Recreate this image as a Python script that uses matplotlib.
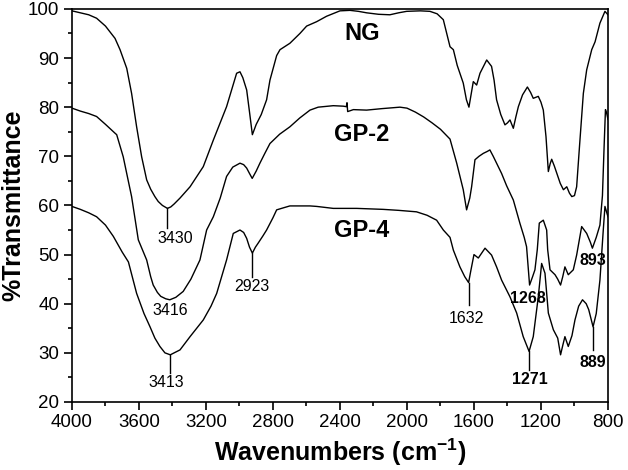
import numpy as np
import matplotlib
matplotlib.use('Agg')
import matplotlib.pyplot as plt
from matplotlib.ticker import MultipleLocator

plt.rcParams['font.family'] = 'Liberation Sans'
plt.rcParams['mathtext.fontset'] = 'custom'
plt.rcParams['mathtext.rm'] = 'Liberation Sans'
plt.rcParams['mathtext.bf'] = 'Liberation Sans:bold'

# NG spectrum (wavenumber, %T)
wn_ng = [4000, 3950, 3900, 3853, 3800, 3743, 3713, 3673, 3644, 3614, 3584, 3554,
         3530, 3505, 3485, 3460, 3430, 3410, 3390, 3355, 3295, 3216, 3156, 3077,
         3017, 2997, 2980, 2957, 2940, 2923, 2900, 2870, 2838, 2818, 2778, 2758,
         2699, 2639, 2599, 2539, 2480, 2400, 2340, 2290, 2241, 2170, 2102, 2050,
         2002, 1920, 1863, 1820, 1783, 1743, 1723, 1700, 1664, 1645, 1630, 1615,
         1604, 1584, 1564, 1524, 1495, 1480, 1465, 1440, 1415, 1400, 1385, 1365,
         1350, 1335, 1310, 1281, 1262, 1246, 1216, 1200, 1186, 1170, 1156, 1145,
         1136, 1120, 1106, 1085, 1066, 1046, 1030, 1016, 1000, 987, 970, 947, 927,
         897, 877, 848, 818, 800]
t_ng = [99.6, 99.2, 98.8, 98.1, 96.5, 94.0, 91.7, 87.9, 82.8, 76.0, 69.9, 65.2,
        63.3, 61.8, 60.8, 60.0, 59.4, 59.7, 60.3, 61.5, 63.8, 67.9, 73.3, 80.1,
        86.9, 87.2, 86.0, 83.5, 79.0, 74.4, 76.5, 78.5, 81.5, 85.5, 90.5, 91.7,
        93.0, 95.0, 96.5, 97.4, 98.5, 99.6, 99.7, 99.5, 99.2, 98.9, 98.8, 99.2,
        99.5, 99.6, 99.5, 99.0, 97.8, 92.3, 91.7, 88.5, 84.9, 81.5, 80.0, 83.0,
        85.2, 84.5, 86.9, 89.6, 88.3, 85.5, 81.5, 78.5, 76.4, 76.8, 77.4, 75.7,
        78.0, 80.1, 82.5, 84.1, 83.0, 81.8, 82.2, 81.0, 79.4, 74.0, 66.9, 68.5,
        69.4, 68.0, 66.6, 64.5, 63.2, 63.8, 62.5, 61.8, 62.0, 63.8, 72.0, 82.8, 87.6,
        91.7, 93.3, 97.1, 99.5, 98.8]

# GP-2 spectrum
wn_gp2 = [4000, 3950, 3900, 3853, 3800, 3743, 3733, 3694, 3670, 3644, 3604, 3554,
          3530, 3515, 3490, 3470, 3440, 3416, 3380, 3336, 3290, 3236, 3196, 3156,
          3115, 3077, 3040, 2997, 2975, 2957, 2940, 2924, 2900, 2878, 2850, 2818,
          2760, 2699, 2640, 2579, 2530, 2440, 2380, 2362, 2358, 2354, 2320, 2241,
          2150, 2042, 2000, 1950, 1900, 1850, 1800, 1743, 1703, 1664, 1644, 1625,
          1614, 1594, 1570, 1544, 1520, 1505, 1485, 1465, 1435, 1405, 1365, 1326,
          1300, 1286, 1268, 1250, 1236, 1222, 1210, 1186, 1166, 1160, 1146, 1116,
          1100, 1083, 1070, 1057, 1037, 1007, 987, 957, 927, 905, 893, 870, 848,
          833, 823, 815, 808, 800]
t_gp2 = [79.8, 79.2, 78.7, 78.1, 76.5, 74.7, 74.4, 69.9, 66.0, 61.8, 53.0, 48.9,
         45.5, 43.8, 42.3, 41.5, 41.0, 40.8, 41.3, 42.5, 45.0, 48.9, 55.0, 57.7,
         61.5, 65.9, 67.8, 68.6, 68.3, 67.6, 66.5, 65.5, 67.0, 68.6, 70.5, 72.6,
         74.5, 76.0, 77.8, 79.4, 80.0, 80.3, 80.2, 80.1, 80.9, 79.1, 79.5, 79.4,
         79.7, 80.0, 79.8, 79.0, 78.0, 76.8, 75.5, 73.5, 68.6, 63.2, 59.1, 61.5,
         63.8, 69.3, 70.0, 70.6, 71.0, 71.3, 70.0, 68.6, 66.5, 64.0, 61.1, 56.4,
         53.5, 51.6, 43.8, 45.5, 46.9, 51.0, 56.4, 57.0, 55.0, 51.0, 46.9, 45.9,
         45.0, 43.8, 45.5, 47.5, 45.9, 46.9, 49.9, 55.7, 54.3, 52.5, 51.3, 53.5, 56.0,
         62.0, 72.0, 79.5, 78.8, 77.5]

# GP-4 spectrum
wn_gp4 = [4000, 3950, 3900, 3853, 3800, 3753, 3700, 3663, 3614, 3570, 3534, 3505,
          3475, 3445, 3413, 3390, 3355, 3295, 3216, 3170, 3136, 3077, 3037, 2997,
          2975, 2957, 2940, 2923, 2905, 2889, 2860, 2838, 2800, 2778, 2739, 2699,
          2579, 2539, 2440, 2300, 2142, 2050, 1943, 1880, 1823, 1783, 1743, 1723,
          1684, 1655, 1632, 1620, 1600, 1574, 1534, 1495, 1465, 1435, 1385, 1345,
          1306, 1271, 1246, 1216, 1196, 1176, 1156, 1126, 1100, 1083, 1070, 1057,
          1037, 1015, 997, 975, 952, 930, 915, 889, 870, 848, 828, 818, 800]
t_gp4 = [59.8, 59.2, 58.5, 57.7, 56.0, 53.7, 50.5, 48.5, 42.1, 38.0, 35.3, 33.0,
         31.3, 30.0, 29.6, 30.0, 30.6, 33.3, 36.7, 39.5, 42.1, 48.9, 54.3, 55.0,
         54.5, 53.3, 51.5, 50.3, 51.5, 52.3, 53.8, 55.0, 57.5, 59.1, 59.5, 59.9,
         59.9, 59.8, 59.4, 59.4, 59.2, 59.0, 58.7, 58.0, 57.0, 55.0, 53.5, 50.9,
         47.5, 45.5, 44.3, 46.5, 50.0, 49.3, 51.3, 49.9, 47.5, 44.8, 41.4, 38.1,
         33.3, 30.3, 33.3, 41.4, 48.2, 46.2, 38.1, 34.7, 33.0, 29.6, 31.5, 33.3,
         31.3, 33.5, 36.7, 39.5, 40.8, 40.0, 38.8, 35.3, 38.0, 44.8, 55.0, 59.8, 57.7]

series_names = ['NG', 'GP-2', 'GP-4']

# peak labels: text, series, wavenumber, text x, text y, line end (None = no line), bold
peaks = [
    ('3430', 0, 3430, 3385, 53.3, 55.4, False),
    ('3416', 1, 3416, 3415, 38.7, None, False),
    ('3413', 2, 3413, 3440, 24.0, 25.8, False),
    ('2923', 2, 2923, 2927, 43.5, 45.5, False),
    ('1632', 2, 1632, 1642, 37.0, 39.7, False),
    ('1268', 1, 1268, 1281, 41.1, None, True),
    ('893', 1, 893, 893, 48.7, None, True),
    ('1271', 2, 1271, 1266, 24.5, 26.5, True),
    ('889', 2, 889, 893, 28.0, 30.6, True),
]

fig = plt.figure(figsize=(6.28, 4.70), dpi=100)
ax = fig.add_axes([0.1146, 0.1447, 0.8535, 0.8364])

curves = [(wn_ng, t_ng), (wn_gp2, t_gp2), (wn_gp4, t_gp4)]
for wn, t in curves:
    ax.plot(wn, t, color='black', lw=1.0)

# curve names
for name, ty in zip(series_names, [94.9, 74.4, 55.0]):
    ax.text(2269, ty, name, fontsize=17, fontweight='bold', ha='center', va='center')

for label, si, w, tx, ty, lend, bold in peaks:
    wn, t = curves[si]
    yv = np.interp(w, wn[::-1], t[::-1])
    if lend is not None:
        ax.plot([w, w], [yv, lend], color='black', lw=1.0)
    ax.text(tx, ty, label, fontsize=11.5, ha='center', va='center',
            fontweight='bold' if bold else 'normal')

ax.set_xlim(4000, 800)
ax.set_ylim(20, 100)
ax.xaxis.set_major_locator(MultipleLocator(400))
ax.xaxis.set_minor_locator(MultipleLocator(200))
ax.yaxis.set_major_locator(MultipleLocator(10))
ax.yaxis.set_minor_locator(MultipleLocator(5))
ax.tick_params(which='both', direction='out', top=False, right=False, width=1.2)
ax.tick_params(which='major', length=6, labelsize=13.5, pad=3)
ax.tick_params(which='minor', length=3)
for s in ax.spines.values():
    s.set_linewidth(1.2)

ax.set_xlabel(r'Wavenumbers (cm$^{\mathbf{-1}}$)', fontsize=18, fontweight='bold', labelpad=4)
ax.set_ylabel('%Transmittance', fontsize=18, fontweight='bold', labelpad=2)

fig.savefig('out.png', dpi=100)
